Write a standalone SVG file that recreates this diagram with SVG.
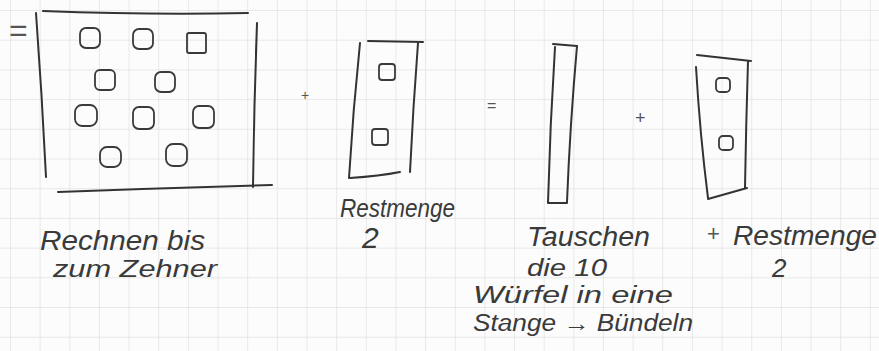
<svg xmlns="http://www.w3.org/2000/svg" width="879" height="351" viewBox="0 0 879 351">
<defs>
<pattern id="grid" x="10" y="10" width="29.65" height="29.7" patternUnits="userSpaceOnUse">
<path d="M0 0 H29.65 M0 0 V29.7" fill="none" stroke="#d6d6d6" stroke-width="1"/>
</pattern>
<style>
.pen{fill:none;stroke:#333;stroke-width:2;stroke-linecap:round;stroke-linejoin:round}
.cube{fill:none;stroke:#3a3a3a;stroke-width:1.8}
.hand{font-family:"Liberation Sans","DejaVu Sans",sans-serif;fill:#3a3a3a;font-style:italic}
.op{font-family:"Liberation Sans","DejaVu Sans",sans-serif;fill:#555}
</style>
</defs>
<rect width="879" height="351" fill="#fcfcfc"/>
<rect width="879" height="351" fill="url(#grid)"/>

<text class="op" x="9" y="41" font-size="32">=</text>

<g id="zehner-box">
<path class="pen" d="M43 11 Q150 15 248 13"/>
<path class="pen" d="M36 13 Q42 95 46 177"/>
<path class="pen" d="M257 23 Q254 105 253 187"/>
<path class="pen" d="M58 192 Q165 188 272 185"/>
<rect class="cube" x="80" y="28" width="20" height="20" rx="6"/>
<rect class="cube" x="133" y="29" width="20" height="20" rx="6"/>
<rect class="cube" x="187" y="33" width="19" height="20" rx="2"/>
<rect class="cube" x="95" y="70" width="20" height="20" rx="5"/>
<rect class="cube" x="155" y="72" width="20" height="20" rx="6"/>
<rect class="cube" x="75" y="105" width="22" height="21" rx="7"/>
<rect class="cube" x="133" y="107" width="21" height="22" rx="6"/>
<rect class="cube" x="193" y="106" width="21" height="22" rx="6"/>
<rect class="cube" x="100" y="147" width="21" height="20" rx="7"/>
<rect class="cube" x="166" y="144" width="21" height="22" rx="7"/>
</g>

<text class="op" x="301" y="100" font-size="14">+</text>

<g id="restmenge-box">
<path class="pen" d="M368 41 L423 42"/>
<path class="pen" d="M360 43 Q353 110 349 178"/>
<path class="pen" d="M418 43 Q413 108 410 172"/>
<path class="pen" d="M350 178 Q380 176 400 172"/>
<rect class="cube" x="379" y="64" width="16" height="16" rx="3"/>
<rect class="cube" x="372" y="129" width="16" height="16" rx="3"/>
</g>

<text class="op" x="487" y="111" font-size="16">=</text>

<g id="stange">
<path class="pen" d="M553 44 L577 46"/>
<path class="pen" d="M555 47 Q550 125 548 203"/>
<path class="pen" d="M577 46 Q570 125 567 202"/>
<path class="pen" d="M549 203 L567 203"/>
</g>

<text class="op" x="635" y="124" font-size="18">+</text>

<g id="restmenge-box-2">
<path class="pen" d="M697 55 L751 61"/>
<path class="pen" d="M696 67 Q700 135 708 198"/>
<path class="pen" d="M748 61 Q746 125 745 188"/>
<path class="pen" d="M708 199 L747 188"/>
<rect class="cube" x="716" y="78" width="14" height="14" rx="4"/>
<rect class="cube" x="719" y="136" width="14" height="14" rx="4"/>
</g>

<g id="labels">
<text class="hand" x="40" y="250" font-size="27" textLength="165" lengthAdjust="spacingAndGlyphs">Rechnen bis</text>
<text class="hand" x="53" y="277" font-size="24" textLength="164" lengthAdjust="spacingAndGlyphs">zum Zehner</text>
<text class="hand" x="340" y="217" font-size="26" textLength="115" lengthAdjust="spacingAndGlyphs">Restmenge</text>
<text class="hand" x="362" y="248" font-size="30">2</text>
<text class="hand" x="527" y="246" font-size="27" textLength="123" lengthAdjust="spacingAndGlyphs">Tauschen</text>
<text class="hand" x="527" y="276" font-size="24" textLength="80" lengthAdjust="spacingAndGlyphs">die 10</text>
<text class="hand" x="473" y="303" font-size="23" textLength="200" lengthAdjust="spacingAndGlyphs">Würfel in eine</text>
<text class="hand" x="473" y="331" font-size="23" textLength="220" lengthAdjust="spacingAndGlyphs">Stange → Bündeln</text>
<text class="op" x="707" y="241" font-size="22">+</text>
<text class="hand" x="733" y="245" font-size="28" textLength="144" lengthAdjust="spacingAndGlyphs">Restmenge</text>
<text class="hand" x="772" y="277" font-size="26">2</text>
</g>
</svg>
